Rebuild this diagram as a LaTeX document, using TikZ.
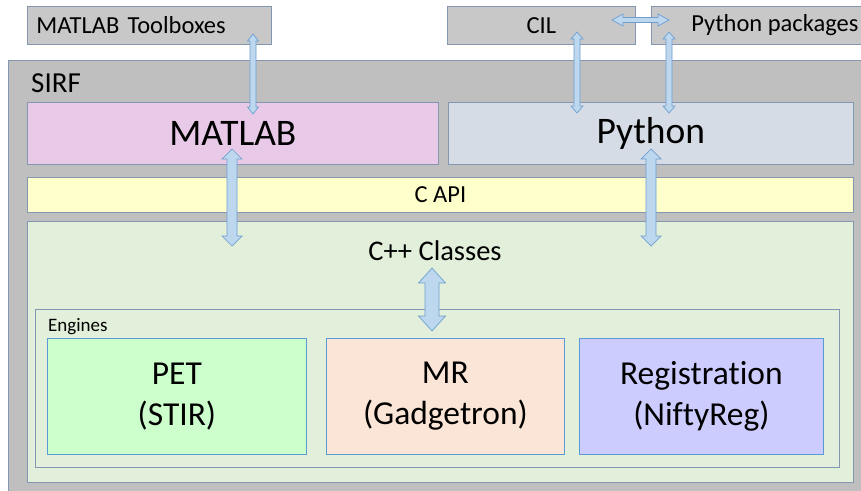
\documentclass[tikz,border=0pt]{standalone}
\usepackage{fontspec}
\setmainfont{Carlito}[Ligatures=NoCommon]
\usetikzlibrary{calc}

\definecolor{boxgray}{HTML}{C8C8C8}
\definecolor{sirfgray}{HTML}{BFBFBF}
\definecolor{edgegray}{HTML}{8497B0}
\definecolor{edgeblue}{HTML}{5B9BD5}
\definecolor{arrowfill}{HTML}{BDD7EE}
\definecolor{arrowedge}{HTML}{6F9FD0}
\definecolor{matlabpink}{HTML}{E8C9E8}
\definecolor{pythongray}{HTML}{D6DCE5}
\definecolor{capiyellow}{HTML}{FFFFCC}
\definecolor{cppgreen}{HTML}{E2EFDA}
\definecolor{petgreen}{HTML}{CCFFCC}
\definecolor{mrpeach}{HTML}{FBE5D6}
\definecolor{regblue}{HTML}{CCCCFF}

\tikzstyle{box} = [rectangle, draw=edgegray, line width=0.8pt, inner sep=0pt, anchor=north west, align=center]
\tikzstyle{topbox} = [box, fill=boxgray, font=\fontsize{24.5}{29}\selectfont]
\tikzstyle{langbox} = [box, font=\fontsize{37.5}{45}\selectfont]
\tikzstyle{engbox} = [box, draw=edgeblue, font=\fontsize{33.5}{41}\selectfont]
\tikzstyle{blockarrow} = [draw=arrowedge, fill=arrowfill, line width=0.7pt, line join=miter]

% vertical double block arrow: top, bottom, shaft half width, head half width, head length
\newcommand{\vblock}[5]{%
  \draw[blockarrow] let \p1=(#1), \p2=(#2) in
    (\x1,\y1) -- (\x1+#4,\y1-#5) -- (\x1+#3,\y1-#5) -- (\x1+#3,\y2+#5) -- (\x1+#4,\y2+#5)
    -- (\x1,\y2) -- (\x1-#4,\y2+#5) -- (\x1-#3,\y2+#5) -- (\x1-#3,\y1-#5) -- (\x1-#4,\y1-#5) -- cycle;}
% horizontal double block arrow: left, right, shaft half width, head half width, head length
\newcommand{\hblock}[5]{%
  \draw[blockarrow] let \p1=(#1), \p2=(#2) in
    (\x1,\y1) -- (\x1+#5,\y1+#4) -- (\x1+#5,\y1+#3) -- (\x2-#5,\y1+#3) -- (\x2-#5,\y1+#4)
    -- (\x2,\y1) -- (\x2-#5,\y1-#4) -- (\x2-#5,\y1-#3) -- (\x1+#5,\y1-#3) -- (\x1+#5,\y1-#4) -- cycle;}

\begin{document}
\begin{tikzpicture}[x=1pt,y=-1pt]

    \clip (0,0) rectangle (861,490);
    \fill[white] (0,0) rectangle (861,490);

    % Pacchetti esterni
    \node[topbox, minimum width=244, minimum height=38, text width=226pt, inner xsep=9pt, align=left] (tbx) at (27,6) {MATLAB Toolboxes};
    \node[topbox, minimum width=188, minimum height=38] (cil) at (447,6) {CIL};
    \node[topbox, minimum width=247, minimum height=38] (pyp) at (651,6) {Python packages};

    % SIRF
    \node[box, fill=sirfgray, minimum width=880, minimum height=450] (sirf) at (8,60) {};
    \node[anchor=base west, inner sep=0pt, font=\fontsize{29}{35}\selectfont] (sirflbl) at (31,92) {SIRF};

    % Interfacce
    \node[langbox, fill=matlabpink, minimum width=411, minimum height=62] (ml) at (27,102) {MATLAB};
    \node[langbox, fill=pythongray, minimum width=405, minimum height=62] (py) at (448,102) {Python};
    \node[box, fill=capiyellow, minimum width=826, minimum height=35, font=\fontsize{24.5}{29}\selectfont] (capi) at (27,177) {C API};

    % Classi C++ e motori
    \node[box, fill=cppgreen, minimum width=826, minimum height=261] (cpp) at (27,221) {};
    \node[anchor=base, inner sep=0pt, font=\fontsize{28.5}{34}\selectfont] (cpplbl) at (435,260) {C++ Classes};
    \node[box, fill=cppgreen, minimum width=804, minimum height=158] (eng) at (35,309) {};
    \node[anchor=base west, inner sep=0pt, font=\fontsize{19}{23}\selectfont] (englbl) at (48,331) {Engines};
    \node[engbox, fill=petgreen, minimum width=259, minimum height=116] (pet) at (47,338) {PET\\(STIR)};
    \node[engbox, fill=mrpeach, minimum width=238, minimum height=116] (mr) at (326,338) {MR\\(Gadgetron)};
    \node[engbox, fill=regblue, minimum width=244, minimum height=116] (reg) at (579,338) {Registration\\(NiftyReg)};

    % Frecce
    \coordinate (tbxA) at (253,34);  \coordinate (mlA) at (253,114);
    \coordinate (cilA) at (577,32);  \coordinate (pyA) at (577,113);
    \coordinate (pypA) at (669,32);  \coordinate (pyB) at (669,113);
    \coordinate (cilB) at (612,20);  \coordinate (pypB) at (669,20);
    \coordinate (mlB) at (232,149);  \coordinate (cppA) at (232,246);
    \coordinate (pyC) at (651,149);  \coordinate (cppB) at (651,246);
    \coordinate (cppC) at (432,268); \coordinate (engA) at (432,331);

    \vblock{tbxA}{mlA}{3pt}{5.5pt}{7pt}
    \vblock{cilA}{pyA}{3pt}{6pt}{7pt}
    \vblock{pypA}{pyB}{3pt}{6pt}{7pt}
    \hblock{cilB}{pypB}{2.5pt}{6pt}{11pt}
    \vblock{mlB}{cppA}{5pt}{10pt}{10pt}
    \vblock{pyC}{cppB}{5pt}{10pt}{10pt}
    \vblock{cppC}{engA}{7pt}{13.5pt}{15pt}

\end{tikzpicture}
\end{document}
